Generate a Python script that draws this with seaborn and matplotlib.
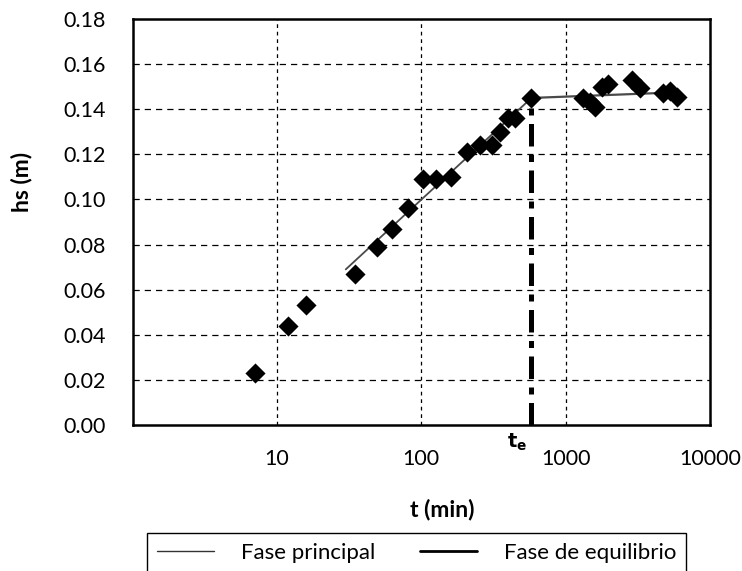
import matplotlib
matplotlib.use("Agg")
import matplotlib.pyplot as plt
import seaborn as sns
import pandas as pd
from matplotlib.lines import Line2D

# ---- data ----
t_min = [7, 12, 16, 35, 49, 63, 81, 103, 127, 161, 208, 256, 310, 352, 400, 448, 580,
         1320, 1480, 1600, 1790, 1970, 2880, 3280, 4730, 5290, 5910]
hs_m = [0.023, 0.044, 0.053, 0.067, 0.079, 0.087, 0.096, 0.109, 0.109, 0.110, 0.121, 0.124,
        0.124, 0.130, 0.136, 0.136, 0.145, 0.145, 0.143, 0.141, 0.150, 0.151, 0.153, 0.1495,
        0.147, 0.148, 0.1455]

fase_principal_t = [30, 580]
fase_principal_h = [0.069, 0.145]
fase_equilibrio_t = [580, 6000]
fase_equilibrio_h = [0.145, 0.1475]

t_e = 580
h_e = 0.145

y_ticks = [0.00, 0.02, 0.04, 0.06, 0.08, 0.10, 0.12, 0.14, 0.16, 0.18]
x_ticks = [1, 10, 100, 1000, 10000]
x_ticklabels = ["", "10", "100", "1000", "10000"]

sns.set_style("white")
plt.rcParams['font.family'] = ['Lato', 'DejaVu Sans']
plt.rcParams['text.color'] = 'black'
plt.rcParams['axes.labelcolor'] = 'black'

fig = plt.figure(figsize=(7.42, 5.71), dpi=100)
ax = fig.add_axes([132.5 / 742, (571 - 425) / 571, (710 - 132.5) / 742, (425 - 19) / 571])

df_pts = pd.DataFrame({"t": t_min, "hs": hs_m})
df_p = pd.DataFrame({"t": fase_principal_t, "hs": fase_principal_h})
df_e = pd.DataFrame({"t": fase_equilibrio_t, "hs": fase_equilibrio_h})

ax.set_xscale("log")
ax.set_xlim(1, 10000)
ax.set_ylim(0, 0.18)

# grid
for yv in y_ticks[1:-1]:
    ax.axhline(yv, color="black", lw=0.9, ls=(0, (5, 4)), zorder=0)
for xv in [10, 100, 1000]:
    ax.axvline(xv, color="black", lw=0.9, ls=(0, (3, 3)), zorder=0)

sns.lineplot(data=df_p, x="t", y="hs", ax=ax, color="#4a4a4a", lw=1.3, zorder=3,
             estimator=None, sort=False)
sns.lineplot(data=df_e, x="t", y="hs", ax=ax, color="#4a4a4a", lw=1.6, zorder=3,
             estimator=None, sort=False)

# equilibrium time marker
te_line, = ax.plot([t_e, t_e], [0, h_e], color="black", lw=3.6, zorder=4)
te_line.set_dashes([4.5, 1.7, 1.4, 1.7])

sns.scatterplot(data=df_pts, x="t", y="hs", ax=ax, marker="D", s=105, color="black",
                edgecolor="black", linewidth=0, zorder=5)

ax.set_xticks(x_ticks)
ax.set_xticklabels(x_ticklabels)
ax.xaxis.set_minor_locator(matplotlib.ticker.NullLocator())
ax.set_yticks(y_ticks)
ax.set_yticklabels([f"{v:.2f}" for v in y_ticks])
ax.tick_params(axis="both", which="major", direction="inout", length=9, width=1.3,
               labelsize=15.5, colors="black")
ax.tick_params(axis="x", pad=13)
ax.tick_params(axis="y", pad=15)

for sp in ax.spines.values():
    sp.set_visible(True)
    sp.set_color("black")
    sp.set_linewidth(1.8)

ax.set_xlabel("t (min)", fontsize=16.5, fontweight="bold")
ax.set_ylabel("hs (m)", fontsize=16.5, fontweight="bold")
ax.xaxis.set_label_coords(0.536, -0.182)
ax.yaxis.set_label_coords(-0.174, 0.598)

ax.text(t_e * 0.94, -0.003, r"$\mathbf{t_e}$", ha="right", va="top", fontsize=14,
        family=["DejaVu Serif"])

handles = [Line2D([], [], color="#333333", lw=1.0),
           Line2D([], [], color="black", lw=2.0)]
leg = fig.legend(handles, ["Fase principal", "Fase de equilibrio"], ncol=2,
                 loc="upper center", bbox_to_anchor=(416.5 / 742, (571 - 533) / 571),
                 frameon=True, fancybox=False, shadow=False, fontsize=16,
                 handlelength=2.6, handletextpad=1.2, columnspacing=2.0, borderpad=0.45,
                 borderaxespad=0, framealpha=1)
leg.get_frame().set_edgecolor("black")
leg.get_frame().set_linewidth(1.0)

fig.savefig("out.png", dpi=100)
